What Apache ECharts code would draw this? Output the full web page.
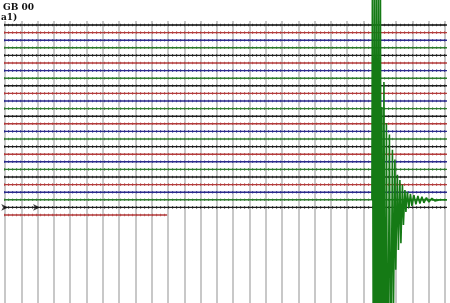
<!DOCTYPE html>
<html><head><meta charset="utf-8">
<script src="https://cdn.jsdelivr.net/npm/echarts@6/dist/echarts.min.js"></script>
<style>html,body{margin:0;padding:0;background:#fff}#c{width:450px;height:303px}</style>
</head><body><div id="c"></div>
<script>
// helicorder: one trace per row, x in minutes within the row
const traceCount = 26;
const traceColors = ['#1e1e1e', '#b23c3c', '#2b2b8c', '#2f7a2f'];
const lineStart = -0.3;
const lineEnd = 27.3;
const lastLineEnd = 9.95;
const minuteTicks = [0, 27];
const eventTrace = 23;
const eventTimes = [22.515,22.546,22.607,22.669,22.730,22.791,22.853,22.914,22.975,23.037,23.080,23.129,23.190,23.252,23.331,23.405,23.485,23.589,23.669,23.773,23.834,23.926,23.975,24.080,24.141,24.233,24.294,24.387,24.448,24.540,24.601,24.693,24.785,24.877,24.969,25.092,25.215,25.337,25.460,25.583,25.706,25.859,26.012,26.196,26.380,26.687,27.301];
const eventAmps = [0,-30,30,-30,30,-30,30,-30,30,-30,30,-12.2,30,-15.5,30,-10.1,28.9,-8.6,23.7,-6.6,15.8,-5.3,9.2,-3.3,6.6,-2.6,5.7,-2.0,3.3,-1.3,1.6,-1.05,1.05,-0.8,0.8,-0.6,0.6,-0.5,0.5,-0.4,0.4,-0.3,0.3,-0.2,0.15,0,0];
const markerTrace = 24;
const markerTimes = [0.2, 2.15];
const labels = ['GB 00', 'a1)'];

const series = [];
for (let i = 0; i < traceCount; i++) {
  const end = i === traceCount - 1 ? lastLineEnd : lineEnd;
  const col = traceColors[i % 4];
  series.push({
    type: 'line', data: [[lineStart, i], [end, i]], symbol: 'none', clip: false,
    lineStyle: { color: col, width: 1.4 }, silent: true, z: 2
  });
  series.push({
    type: 'line', data: [[lineStart, i], [end, i]], symbol: 'none', clip: false,
    lineStyle: { color: col, width: 2.6, type: [1, 3], opacity: 0.8 }, silent: true, z: 2
  });
}
series.push({
  type: 'line', data: eventTimes.map((t, k) => [t, eventTrace + eventAmps[k]]),
  symbol: 'none', clip: false, lineStyle: { color: '#157a15', width: 1.6 }, silent: true, z: 5
});
series.push({
  type: 'scatter', data: markerTimes.map(t => [t, markerTrace]), symbol: 'arrow',
  symbolSize: [5, 7], symbolRotate: -90, itemStyle: { color: '#111' }, z: 4
});

const chart = echarts.init(document.getElementById('c'));
chart.setOption({
  animation: false,
  backgroundColor: '#fff',
  title: [
    { text: labels[0], left: 3, top: 3, padding: 0, textStyle: { fontSize: 9, fontWeight: 'bold', color: '#111', fontFamily: 'DejaVu Serif' } },
    { text: labels[1], left: 1, top: 13, padding: 0, textStyle: { fontSize: 9, fontWeight: 'bold', color: '#111', fontFamily: 'DejaVu Serif' } }
  ],
  grid: { left: 5, right: 5, top: 21, bottom: 0 },
  xAxis: {
    type: 'value', min: minuteTicks[0], max: minuteTicks[1], interval: 1, position: 'top',
    axisLine: { show: true, lineStyle: { color: '#9a9a9a', width: 1.5 } },
    axisTick: { show: false }, axisLabel: { show: false },
    splitLine: { show: true, lineStyle: { color: '#b6b6b6', width: 1.5 } }
  },
  yAxis: {
    type: 'value', min: -0.53, max: 36.58, inverse: true,
    axisLine: { show: false }, axisTick: { show: false }, axisLabel: { show: false },
    splitLine: { show: false }
  },
  series: series
});
</script></body></html>
